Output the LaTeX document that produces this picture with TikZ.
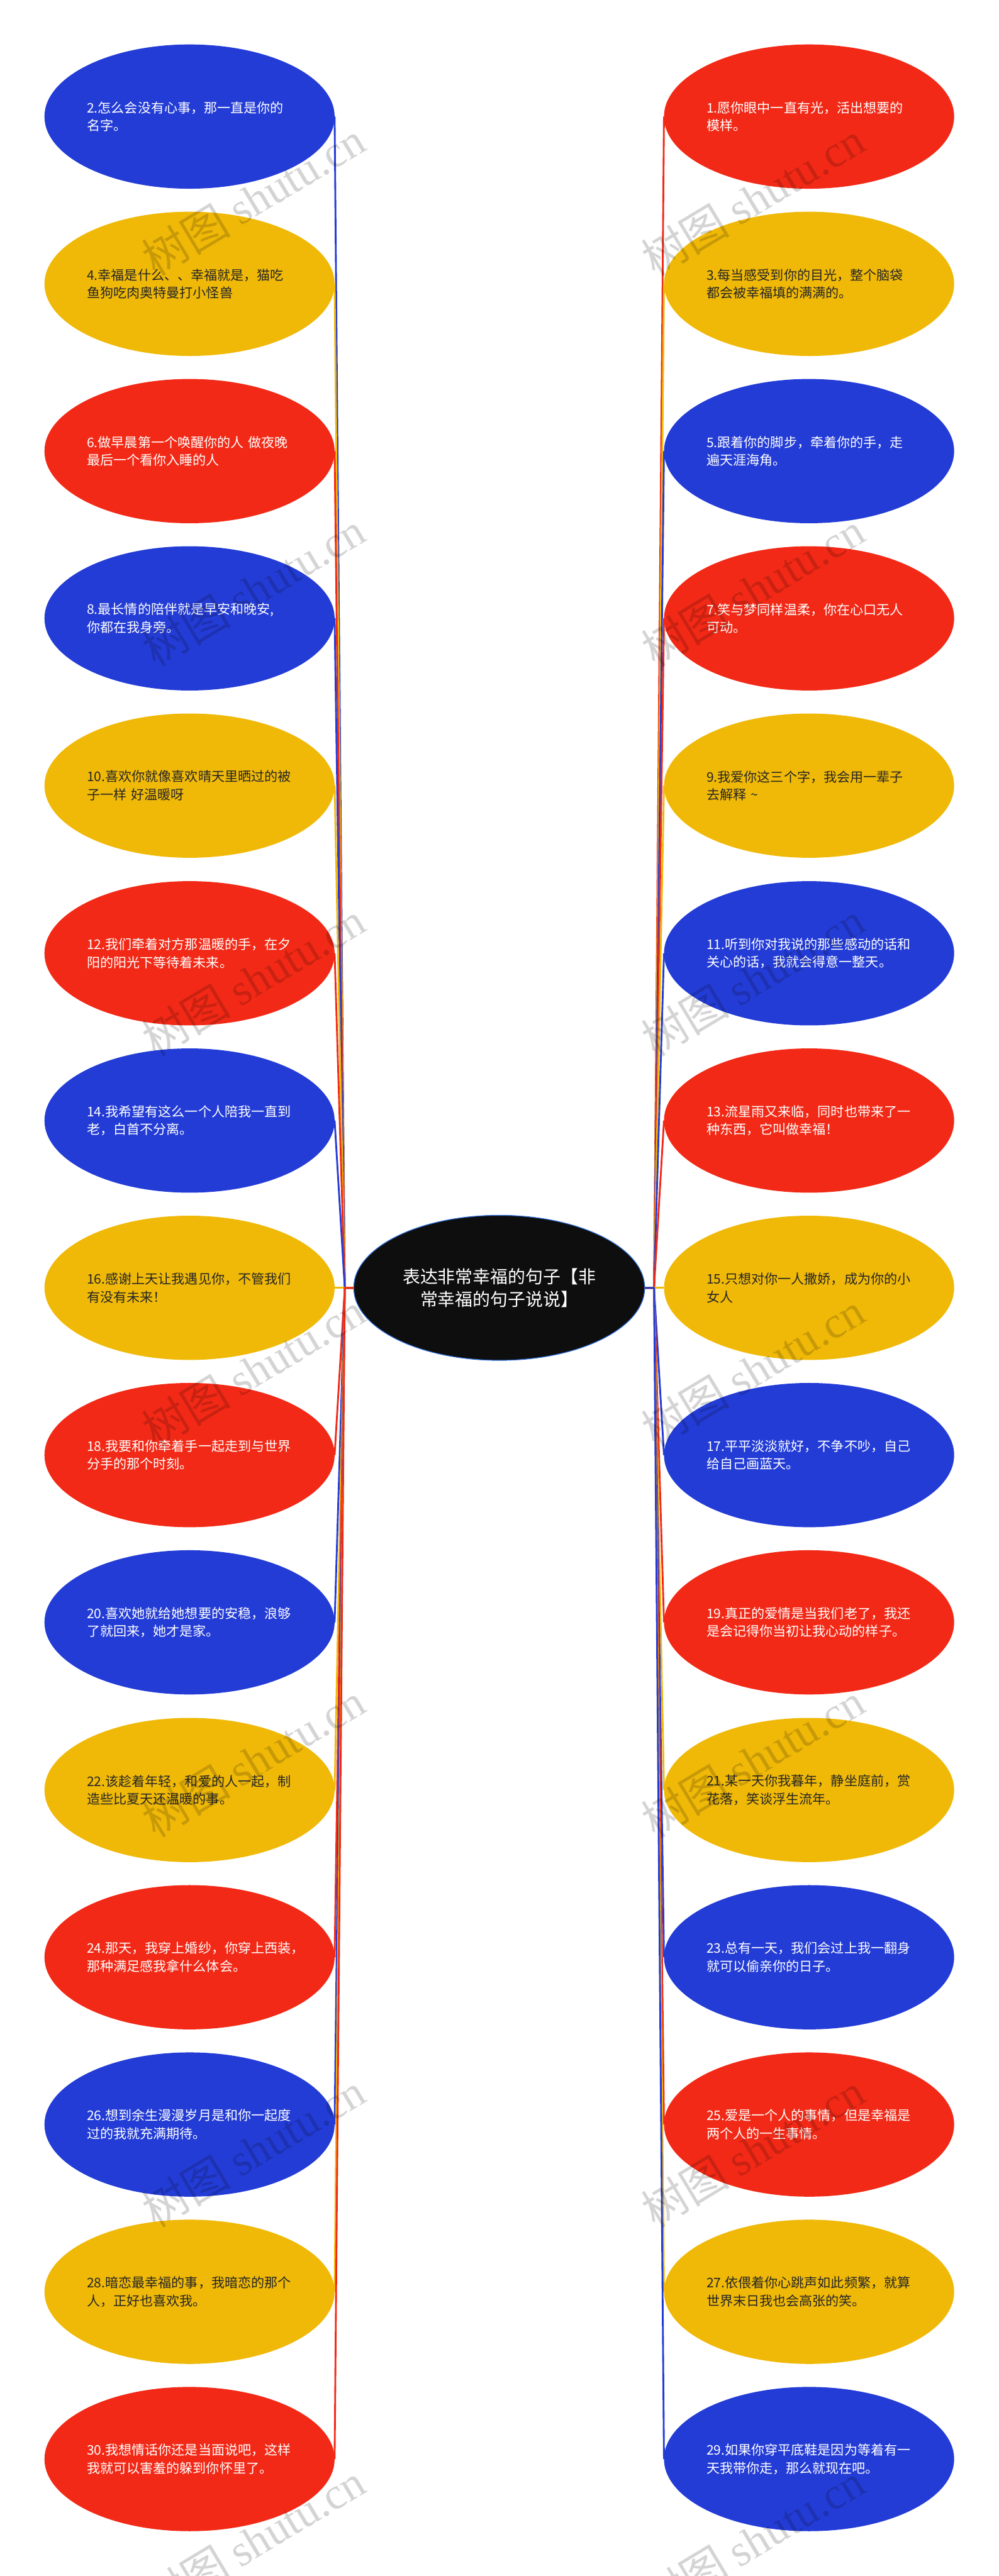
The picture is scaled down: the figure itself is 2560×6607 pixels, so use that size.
\documentclass[tikz,border=0pt]{standalone}
\usepackage{fontspec}
\setmainfont{Noto Sans CJK SC}
\newfontfamily\wmlatin{Liberation Serif}
\usetikzlibrary{shapes.geometric}
\definecolor{leafblue}{HTML}{233CD6}
\definecolor{leafyellow}{HTML}{F0B908}
\definecolor{leafred}{HTML}{F22916}
\definecolor{rootblack}{HTML}{0E0E0E}
\definecolor{rootedge}{HTML}{2F6FD8}
\begin{document}
\begin{tikzpicture}[x=0.5pt,y=-0.5pt,
    leaf/.style={ellipse,inner sep=0pt,outer sep=0pt,minimum width=372pt,minimum height=185pt,text width=263pt,align=left,font=\fontsize{17}{23}\selectfont},
    bluenode/.style={leaf,fill=leafblue,text=white},
    yellownode/.style={leaf,fill=leafyellow,text=black!85},
    rednode/.style={leaf,fill=leafred,text=white},
    rootnode/.style={ellipse,inner sep=0pt,outer sep=0pt,minimum width=373pt,minimum height=186pt,align=center,fill=rootblack,draw=rootedge,line width=1pt,text=white,font=\fontsize{22.5}{29}\selectfont},
    blueline/.style={draw=leafblue,line width=2.3pt,line join=round},
    yellowline/.style={draw=leafyellow,line width=2.3pt,line join=round},
    redline/.style={draw=leafred,line width=2.3pt,line join=round},
    wmark/.style={rotate=31,text=black,text opacity=0.17,inner sep=0pt,font=\fontsize{57}{57}\selectfont}]
      \useasboundingbox (0,0) rectangle (2560,6607);
      \node[rootnode] (root) at (1280,3303) {表达非常幸福的句子【非\\常幸福的句子说说】};
      \coordinate (jl) at (884,3303);
      \coordinate (jr) at (1677,3303);
      \node[bluenode] (n2) at (486,299) {2.怎么会没有心事，那一直是你的\\名字。};
      \node[yellownode] (n4) at (486,728) {4.幸福是什么、、幸福就是，猫吃\\鱼狗吃肉奥特曼打小怪兽};
      \node[rednode] (n6) at (486,1157) {6.做早晨第一个唤醒你的人 做夜晚\\最后一个看你入睡的人};
      \node[bluenode] (n8) at (486,1586) {8.最长情的陪伴就是早安和晚安,\\你都在我身旁。};
      \node[yellownode] (n10) at (486,2015) {10.喜欢你就像喜欢晴天里晒过的被\\子一样 好温暖呀};
      \node[rednode] (n12) at (486,2445) {12.我们牵着对方那温暖的手，在夕\\阳的阳光下等待着未来。};
      \node[bluenode] (n14) at (486,2874) {14.我希望有这么一个人陪我一直到\\老，白首不分离。};
      \node[yellownode] (n16) at (486,3303) {16.感谢上天让我遇见你，不管我们\\有没有未来！};
      \node[rednode] (n18) at (486,3732) {18.我要和你牵着手一起走到与世界\\分手的那个时刻。};
      \node[bluenode] (n20) at (486,4161) {20.喜欢她就给她想要的安稳，浪够\\了就回来，她才是家。};
      \node[yellownode] (n22) at (486,4591) {22.该趁着年轻，和爱的人一起，制\\造些比夏天还温暖的事。};
      \node[rednode] (n24) at (486,5020) {24.那天，我穿上婚纱，你穿上西装，\\那种满足感我拿什么体会。};
      \node[bluenode] (n26) at (486,5449) {26.想到余生漫漫岁月是和你一起度\\过的我就充满期待。};
      \node[yellownode] (n28) at (486,5878) {28.暗恋最幸福的事，我暗恋的那个\\人，正好也喜欢我。};
      \node[rednode] (n30) at (486,6307) {30.我想情话你还是当面说吧，这样\\我就可以害羞的躲到你怀里了。};
      \node[rednode] (n1) at (2074.5,299) {1.愿你眼中一直有光，活出想要的\\模样。};
      \node[yellownode] (n3) at (2074.5,728) {3.每当感受到你的目光，整个脑袋\\都会被幸福填的满满的。};
      \node[bluenode] (n5) at (2074.5,1157) {5.跟着你的脚步，牵着你的手，走\\遍天涯海角。};
      \node[rednode] (n7) at (2074.5,1586) {7.笑与梦同样温柔，你在心口无人\\可动。};
      \node[yellownode] (n9) at (2074.5,2015) {9.我爱你这三个字，我会用一辈子\\去解释 \textasciitilde};
      \node[bluenode] (n11) at (2074.5,2445) {11.听到你对我说的那些感动的话和\\关心的话，我就会得意一整天。};
      \node[rednode] (n13) at (2074.5,2874) {13.流星雨又来临，同时也带来了一\\种东西，它叫做幸福！};
      \node[yellownode] (n15) at (2074.5,3303) {15.只想对你一人撒娇，成为你的小\\女人};
      \node[bluenode] (n17) at (2074.5,3732) {17.平平淡淡就好，不争不吵，自己\\给自己画蓝天。};
      \node[rednode] (n19) at (2074.5,4161) {19.真正的爱情是当我们老了，我还\\是会记得你当初让我心动的样子。};
      \node[yellownode] (n21) at (2074.5,4591) {21.某一天你我暮年，静坐庭前，赏\\花落，笑谈浮生流年。};
      \node[bluenode] (n23) at (2074.5,5020) {23.总有一天，我们会过上我一翻身\\就可以偷亲你的日子。};
      \node[rednode] (n25) at (2074.5,5449) {25.爱是一个人的事情，但是幸福是\\两个人的一生事情。};
      \node[yellownode] (n27) at (2074.5,5878) {27.依偎着你心跳声如此频繁，就算\\世界末日我也会高张的笑。};
      \node[bluenode] (n29) at (2074.5,6307) {29.如果你穿平底鞋是因为等着有一\\天我带你走，那么就现在吧。};
      \draw[blueline] (root) -- (jl) -- (n2.east);
      \draw[yellowline] (root) -- (jl) -- (n4.east);
      \draw[redline] (root) -- (jl) -- (n6.east);
      \draw[blueline] (root) -- (jl) -- (n8.east);
      \draw[yellowline] (root) -- (jl) -- (n10.east);
      \draw[redline] (root) -- (jl) -- (n12.east);
      \draw[blueline] (root) -- (jl) -- (n14.east);
      \draw[yellowline] (root) -- (jl) -- (n16.east);
      \draw[redline] (root) -- (jl) -- (n18.east);
      \draw[blueline] (root) -- (jl) -- (n20.east);
      \draw[yellowline] (root) -- (jl) -- (n22.east);
      \draw[redline] (root) -- (jl) -- (n24.east);
      \draw[blueline] (root) -- (jl) -- (n26.east);
      \draw[yellowline] (root) -- (jl) -- (n28.east);
      \draw[redline] (root) -- (jl) -- (n30.east);
      \draw[redline] (root) -- (jr) -- (n1.west);
      \draw[yellowline] (root) -- (jr) -- (n3.west);
      \draw[blueline] (root) -- (jr) -- (n5.west);
      \draw[redline] (root) -- (jr) -- (n7.west);
      \draw[yellowline] (root) -- (jr) -- (n9.west);
      \draw[blueline] (root) -- (jr) -- (n11.west);
      \draw[redline] (root) -- (jr) -- (n13.west);
      \draw[yellowline] (root) -- (jr) -- (n15.west);
      \draw[blueline] (root) -- (jr) -- (n17.west);
      \draw[redline] (root) -- (jr) -- (n19.west);
      \draw[yellowline] (root) -- (jr) -- (n21.west);
      \draw[blueline] (root) -- (jr) -- (n23.west);
      \draw[redline] (root) -- (jr) -- (n25.west);
      \draw[yellowline] (root) -- (jr) -- (n27.west);
      \draw[blueline] (root) -- (jr) -- (n29.west);
      \node[wmark] (wl1) at (650,510) {树图 {\wmlatin shutu.cn}};
      \node[wmark] (wl2) at (650,1511) {树图 {\wmlatin shutu.cn}};
      \node[wmark] (wl3) at (650,2512) {树图 {\wmlatin shutu.cn}};
      \node[wmark] (wl4) at (650,3513) {树图 {\wmlatin shutu.cn}};
      \node[wmark] (wl5) at (650,4514) {树图 {\wmlatin shutu.cn}};
      \node[wmark] (wl6) at (650,5515) {树图 {\wmlatin shutu.cn}};
      \node[wmark] (wl7) at (650,6516) {树图 {\wmlatin shutu.cn}};
      \node[wmark] (wr1) at (1930,510) {树图 {\wmlatin shutu.cn}};
      \node[wmark] (wr2) at (1930,1511) {树图 {\wmlatin shutu.cn}};
      \node[wmark] (wr3) at (1930,2512) {树图 {\wmlatin shutu.cn}};
      \node[wmark] (wr4) at (1930,3513) {树图 {\wmlatin shutu.cn}};
      \node[wmark] (wr5) at (1930,4514) {树图 {\wmlatin shutu.cn}};
      \node[wmark] (wr6) at (1930,5515) {树图 {\wmlatin shutu.cn}};
      \node[wmark] (wr7) at (1930,6516) {树图 {\wmlatin shutu.cn}};
    \end{tikzpicture}
\end{document}
